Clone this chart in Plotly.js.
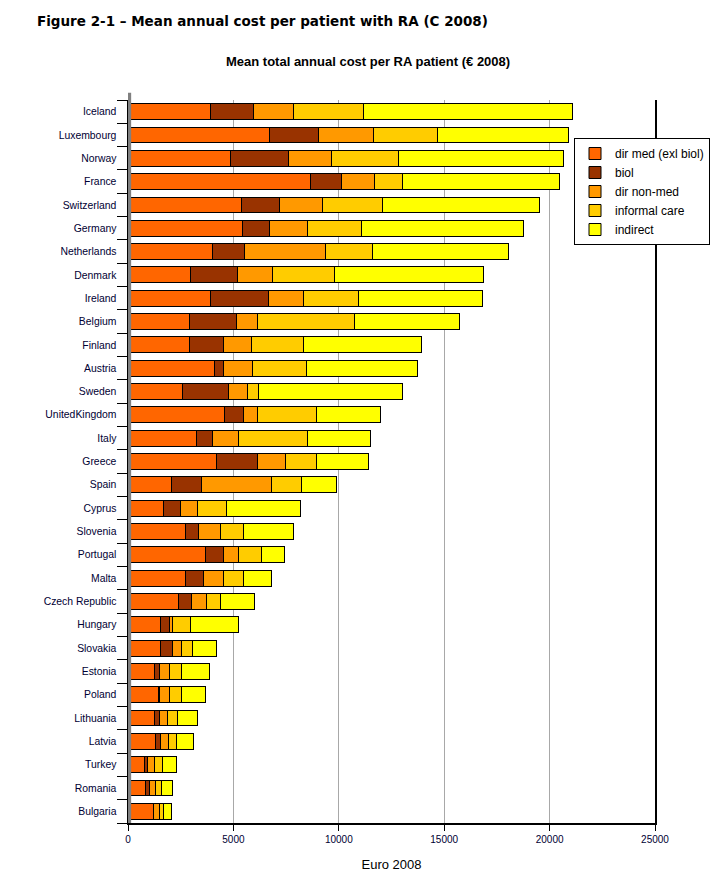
<!DOCTYPE html>
<html>
<head>
<meta charset="utf-8">
<script src="https://cdn.plot.ly/plotly-3.0.1.min.js"></script>
<style>html,body{margin:0;padding:0;background:#fff;}#chart{width:711px;height:886px;}</style>
</head>
<body>
<div id="chart"></div>
<script>
const countries = ["Iceland","Luxembourg","Norway","France","Switzerland","Germany","Netherlands","Denmark","Ireland","Belgium","Finland","Austria","Sweden","UnitedKingdom","Italy","Greece","Spain","Cyprus","Slovenia","Portugal","Malta","Czech Republic","Hungary","Slovakia","Estonia","Poland","Lithuania","Latvia","Turkey","Romania","Bulgaria"];
const dirMed   = [3914,6707,4860,8647,5381,5428,4008,2967,3914,2935,2935,4103,2588,4576,3251,4213,2083,1704,2730,3677,2730,2399,1546,1546,1262,1436,1262,1326,789,836,1231];
const biol     = [2051,2319,2762,1468,1799,1279,1515,2225,2745,2225,1594,426,2178,884,757,1925,1404,805,631,868,852,615,427,569,237,63,237,220,142,190,0];
const dirNonMed= [1893,2614,2020,1578,2051,1798,3835,1657,1673,978,1325,1373,899,678,1247,1326,3314,789,1026,710,947,710,142,426,474,474,379,379,331,284,266];
const informal = [3299,3035,3171,1310,2825,2557,2225,2935,2596,4592,2478,2556,521,2793,3250,1467,1436,1389,1089,1073,947,663,852,520,583,583,473,379,379,284,190];
const indirect = [9909,6234,7859,7479,7448,7716,6454,7069,5893,4987,5602,5271,6848,3030,3014,2462,1673,3503,2382,1104,1325,1625,2288,1152,1326,1137,963,820,663,521,363];
const seriesNames = ["dir med (exl biol)","biol","dir non-med","informal care","indirect"];
const xTicks = [0,5000,10000,15000,20000,25000];

const colors = ["#FF6600","#993300","#FF9900","#FFCC00","#FFFF00"];
const allSeries = [dirMed, biol, dirNonMed, informal, indirect];
const rowIdx = countries.map((c, i) => i);
const data = allSeries.map((vals, i) => ({
  type: "bar",
  orientation: "h",
  name: seriesNames[i],
  y: rowIdx,
  x: vals,
  customdata: countries,
  hovertemplate: "%{customdata}: %{x}<extra>" + seriesNames[i] + "</extra>",
  marker: {color: colors[i], line: {color: "#000000", width: 1}}
}));

const layout = {
  width: 711, height: 886,
  margin: {l: 128, r: 56, t: 100, b: 63, autoexpand: false},
  paper_bgcolor: "#ffffff",
  plot_bgcolor: "#ffffff",
  barmode: "stack",
  bargap: 0.32,
  showlegend: true,
  title: {
    text: "Figure 2-1 – Mean annual cost per patient with RA (C 2008)",
    font: {family: "DejaVu Sans", size: 13.5, color: "#000000", weight: "bold"},
    xref: "container", yref: "container",
    x: 37/711, xanchor: "left",
    y: 1 - 21/886, yanchor: "middle"
  },
  annotations: [{
    text: "<b>Mean total annual cost per RA patient (€ 2008)</b>",
    xref: "paper", yref: "paper",
    x: (368-128)/527, y: (823-62)/723,
    xanchor: "center", yanchor: "middle",
    showarrow: false,
    font: {family: "Liberation Sans", size: 13, color: "#000000"}
  }],
  shapes: [{
    type: "rect", xref: "paper", yref: "paper",
    x0: 0, x1: 0.006, y0: 0, y1: 1.01,
    fillcolor: "#808080", line: {width: 0}, layer: "above"
  }],
  legend: {
    x: (574-128)/527, y: (823-138)/723,
    xanchor: "left", yanchor: "top",
    traceorder: "normal",
    bgcolor: "#ffffff",
    bordercolor: "#000000", borderwidth: 1,
    font: {family: "Liberation Sans", size: 12, color: "#000000"},
    itemwidth: 30, tracegroupgap: 0
  },
  xaxis: {
    range: [0, 25000],
    tickvals: xTicks,
    ticktext: xTicks.map(String),
    showgrid: true, gridcolor: "#a8a8a8", gridwidth: 1,
    zeroline: false,
    showline: true, linecolor: "#000000", linewidth: 1.5,
    ticks: "outside", ticklen: 6, tickcolor: "#000000",
    tickfont: {family: "Liberation Sans", size: 10, color: "#000033"},
    title: {text: "Euro 2008", font: {family: "Liberation Sans", size: 13, color: "#000000"}, standoff: 16}
  },
  yaxis: {
    type: "linear",
    range: [countries.length - 0.5, -0.5],
    tickvals: rowIdx,
    ticktext: countries,
    showgrid: false,
    zeroline: false,
    showline: true, linecolor: "#000000", linewidth: 1.5, mirror: true,
    ticks: "",
    ticklabelstandoff: 8,
    minor: {ticks: "outside", ticklen: 10, tickcolor: "#000000", tickwidth: 1, tick0: 0.5, dtick: 1, showgrid: false},
    tickfont: {family: "Liberation Sans", size: 10.4, color: "#000033"}
  }
};

Plotly.newPlot("chart", data, layout, {displayModeBar: false, staticPlot: true});
</script>
</body>
</html>
